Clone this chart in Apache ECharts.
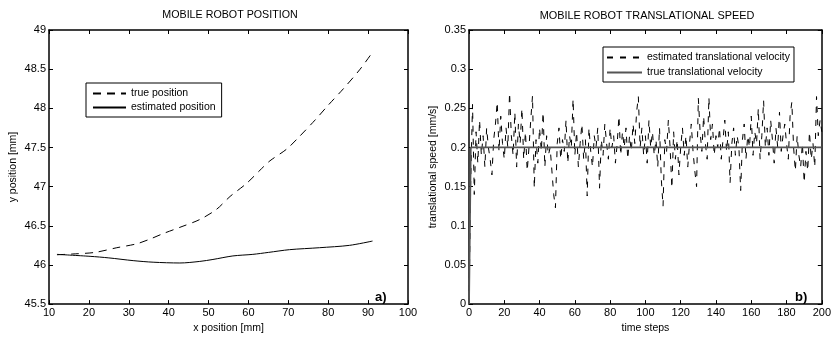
<!DOCTYPE html>
<html>
<head>
<meta charset="UTF-8">
<title>Mobile robot position / speed</title>
<script src="https://cdn.jsdelivr.net/npm/echarts@6/dist/echarts.min.js"></script>
<style>
  body { margin: 0; background: #fff; }
  #chart { width: 834px; height: 339px; }
</style>
</head>
<body>
<div id="chart"></div>
<script>
// --- data ---
const truePosX = [12, 16, 21.5, 27, 32, 35.3, 38.6, 42.8, 47.8, 52, 55.4, 59.5, 63.3, 65.4, 69.6, 72.5, 76.7, 80, 83.8, 88, 91.3];
const truePosY = [46.13, 46.14, 46.16, 46.22, 46.27, 46.33, 46.4, 46.48, 46.58, 46.71, 46.875, 47.04, 47.23, 47.33, 47.48, 47.625, 47.85, 48.04, 48.25, 48.5, 48.73];

const estPosX = [12, 20.3, 25, 31.1, 36.1, 42.8, 47.8, 51.1, 56.1, 61.1, 65, 70.3, 77.8, 85.3, 91.1];
const estPosY = [46.135, 46.11, 46.09, 46.055, 46.035, 46.025, 46.045, 46.07, 46.115, 46.135, 46.16, 46.195, 46.22, 46.25, 46.305];

// estimated translational velocity, time steps 0..200
const estSpeed = [
  0, 0.16, 0.255, 0.14, 0.22, 0.18, 0.235, 0.19, 0.215, 0.175,
  0.225, 0.2, 0.185, 0.165, 0.21, 0.23, 0.258, 0.195, 0.24, 0.205,
  0.185, 0.225, 0.2, 0.27, 0.215, 0.19, 0.245, 0.175, 0.23, 0.205,
  0.25, 0.185, 0.22, 0.17, 0.2, 0.235, 0.266, 0.148, 0.21, 0.18,
  0.225, 0.195, 0.245, 0.175, 0.215, 0.19, 0.2, 0.17, 0.14, 0.123,
  0.205, 0.225, 0.185, 0.21, 0.195, 0.235, 0.18, 0.215, 0.2, 0.262,
  0.19, 0.22, 0.175, 0.205, 0.23, 0.185, 0.21, 0.138, 0.225, 0.195,
  0.175, 0.215, 0.2, 0.225, 0.148, 0.21, 0.19, 0.23, 0.205, 0.185,
  0.225, 0.2, 0.215, 0.18, 0.205, 0.24, 0.19, 0.22, 0.2, 0.225,
  0.185, 0.215, 0.195, 0.23, 0.205, 0.245, 0.265, 0.2, 0.225, 0.19,
  0.215, 0.18, 0.235, 0.2, 0.22, 0.19, 0.21, 0.175, 0.225, 0.16,
  0.125, 0.21, 0.195, 0.235, 0.2, 0.148, 0.22, 0.185, 0.21, 0.165,
  0.2, 0.225, 0.19, 0.215, 0.175, 0.205, 0.23, 0.195, 0.17, 0.15,
  0.263, 0.22, 0.195, 0.24, 0.205, 0.185, 0.264, 0.21, 0.23, 0.19,
  0.215, 0.2, 0.225, 0.185, 0.21, 0.235, 0.195, 0.22, 0.155, 0.205,
  0.225, 0.19, 0.215, 0.2, 0.145, 0.21, 0.23, 0.185, 0.215, 0.2,
  0.24, 0.19, 0.22, 0.205, 0.25, 0.185, 0.215, 0.26, 0.2, 0.225,
  0.19, 0.235, 0.21, 0.18, 0.225, 0.2, 0.245, 0.195, 0.215, 0.23,
  0.205, 0.185, 0.24, 0.258, 0.2, 0.17, 0.215, 0.19, 0.175, 0.205,
  0.155, 0.195, 0.17, 0.22, 0.185, 0.205, 0.175, 0.265, 0.215, 0.235,
  0.22
];
// true translational velocity: [step, value]
const trueSpeedSteps = [0, 1, 200];
const trueSpeedVals = [0, 0.2, 0.2];

const FONT = 'Liberation Sans';

function zip(xs, ys) { return xs.map((x, i) => [x, ys[i]]); }

// matlab-ish boxed axis
function xAx(gridIndex, min, max, interval, name, pos) {
  const main = pos === 'bottom';
  return {
    type: 'value', gridIndex, position: pos, min, max, interval,
    name: main ? name : '', nameLocation: 'middle', nameGap: 18,
    nameTextStyle: { fontFamily: FONT, fontSize: 10.5, color: '#000' },
    axisLine: { show: true, onZero: false, lineStyle: { color: '#000', width: 1.5 } },
    axisTick: { show: true, inside: true, length: 4, lineStyle: { color: '#000' } },
    axisLabel: { show: main, margin: 3, fontFamily: FONT, fontSize: 11, color: '#000' },
    splitLine: { show: false }
  };
}
function yAx(gridIndex, min, max, interval, name, pos, gap) {
  const main = pos === 'left';
  return {
    type: 'value', gridIndex, position: pos, min, max, interval,
    name: main ? name : '', nameLocation: 'middle', nameGap: gap,
    nameTextStyle: { fontFamily: FONT, fontSize: 10.5, color: '#000' },
    axisLine: { show: true, onZero: false, lineStyle: { color: '#000', width: 1.5 } },
    axisTick: { show: true, inside: true, length: 4, lineStyle: { color: '#000' } },
    axisLabel: { show: main, margin: 3, fontFamily: FONT, fontSize: 11, color: '#000' },
    splitLine: { show: false }
  };
}

// legend icons: line only, hide the symbol dot
const noDot = { color: 'rgba(0,0,0,0)', borderWidth: 0 };

const chart = echarts.init(document.getElementById('chart'));
chart.setOption({
  animation: false,
  backgroundColor: '#fff',
  title: [
    { text: 'MOBILE ROBOT POSITION', left: 230, top: 10, textAlign: 'center', padding: 0,
      textStyle: { fontFamily: FONT, fontSize: 10.7, fontWeight: 'normal', color: '#000' } },
    { text: 'MOBILE ROBOT TRANSLATIONAL SPEED', left: 647, top: 10, textAlign: 'center', padding: 0,
      textStyle: { fontFamily: FONT, fontSize: 10.9, fontWeight: 'normal', color: '#000' } }
  ],
  grid: [
    { left: 49, right: 426, top: 30, bottom: 29 },
    { left: 469, right: 8, top: 30, bottom: 29 }
  ],
  xAxis: [
    xAx(0, 10, 100, 10, 'x position [mm]', 'bottom'),
    xAx(0, 10, 100, 10, '', 'top'),
    xAx(1, 0, 200, 20, 'time steps', 'bottom'),
    xAx(1, 0, 200, 20, '', 'top')
  ],
  yAxis: [
    yAx(0, 45.5, 49, 0.5, 'y position [mm]', 'left', 30),
    yAx(0, 45.5, 49, 0.5, '', 'right', 0),
    yAx(1, 0, 0.35, 0.05, 'translational speed [mm/s]', 'left', 30),
    yAx(1, 0, 0.35, 0.05, '', 'right', 0)
  ],
  legend: [
    { data: ['true position', 'estimated position'], orient: 'vertical', left: 86, top: 83,
      padding: [5, 6, 4, 6], itemGap: 3, itemWidth: 33, itemHeight: 12,
      borderColor: '#000', borderWidth: 1, backgroundColor: '#fff',
      textStyle: { fontFamily: FONT, fontSize: 10.5, color: '#000' } },
    { data: ['estimated translational velocity', 'true translational velocity'], orient: 'vertical', left: 603, top: 47,
      padding: [5, 4, 4, 3], itemGap: 4, itemWidth: 35, itemHeight: 12,
      borderColor: '#000', borderWidth: 1, backgroundColor: '#fff',
      textStyle: { fontFamily: FONT, fontSize: 10.5, color: '#000' } }
  ],
  series: [
    { name: 'true position', type: 'line', xAxisIndex: 0, yAxisIndex: 0,
      data: zip(truePosX, truePosY), smooth: 0.3, symbol: 'none',
      lineStyle: { color: '#000', width: 1, type: [8, 6] }, itemStyle: noDot },
    { name: 'estimated position', type: 'line', xAxisIndex: 0, yAxisIndex: 0,
      data: zip(estPosX, estPosY), smooth: 0.3, symbol: 'none',
      lineStyle: { color: '#000', width: 1 }, itemStyle: noDot },
    { name: 'estimated translational velocity', type: 'line', xAxisIndex: 2, yAxisIndex: 2,
      data: estSpeed.map((v, i) => [i, v]), symbol: 'none',
      lineStyle: { color: '#000', width: 1, type: [6, 7] }, itemStyle: noDot },
    { name: 'true translational velocity', type: 'line', xAxisIndex: 2, yAxisIndex: 2,
      data: zip(trueSpeedSteps, trueSpeedVals), symbol: 'none',
      lineStyle: { color: '#555', width: 1.8 }, itemStyle: noDot }
  ],
  graphic: [
    { type: 'text', left: 375, top: 291, style: { text: 'a)', font: 'bold 13px "Liberation Sans"', fill: '#000' } },
    { type: 'text', left: 795, top: 291, style: { text: 'b)', font: 'bold 13px "Liberation Sans"', fill: '#000' } }
  ]
});
</script>
</body>
</html>
